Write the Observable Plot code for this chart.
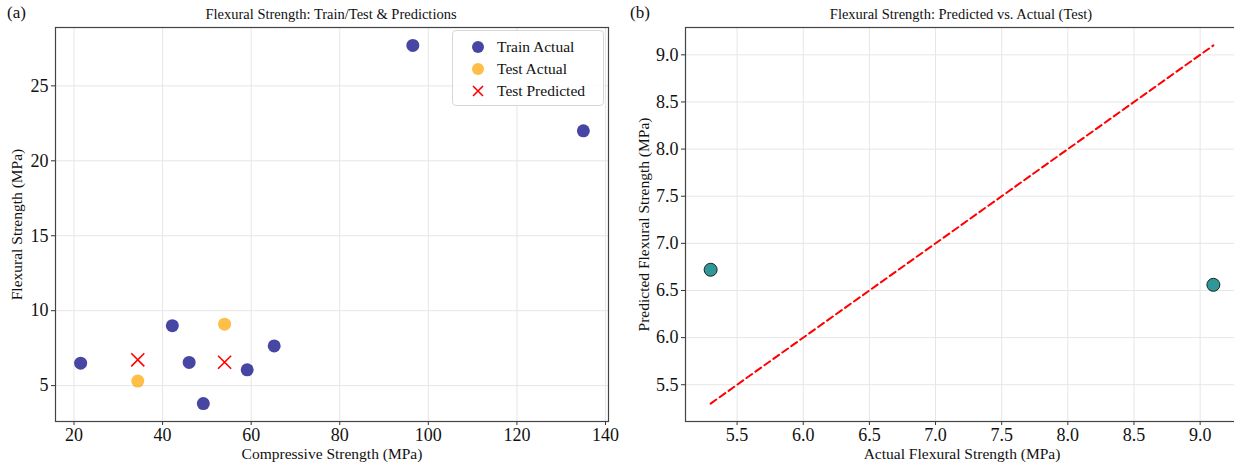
<!DOCTYPE html>
<html>
<head>
<meta charset="utf-8">
<script src="https://cdn.jsdelivr.net/npm/d3@7"></script>
<script src="https://cdn.jsdelivr.net/npm/@observablehq/plot@0.6"></script>
<style>
  html, body { margin: 0; padding: 0; background: #fff; overflow: hidden; }
  #wrap { position: relative; width: 1234px; height: 466px; overflow: hidden; font-family: "Liberation Serif", "DejaVu Serif", serif; color: #111; }
  .panel { position: absolute; top: 0; }
  .title { position: absolute; font-size: 14.5px; white-space: nowrap; transform: translateX(-50%); }
  .tag { position: absolute; font-size: 17px; }
  .legend { position: absolute; border: 1px solid #d6d6d6; border-radius: 4px; background: rgba(255,255,255,0.85); font-size: 15.5px; padding: 5px 0 3px 0; }
  .legend .row { display: flex; align-items: center; height: 22px; }
  .legend svg { margin-left: 18px; margin-right: 12px; }
</style>
</head>
<body>
<div id="wrap"></div>
<script>
// ---- data ----
const trainCompressive = [21.5, 42.2, 46.0, 49.2, 59.1, 65.2, 96.5, 135.0];
const trainFlexural    = [6.5, 9.0, 6.55, 3.8, 6.05, 7.65, 27.7, 22.0];
const testCompressive  = [34.4, 54.0];
const testFlexural     = [5.3, 9.1];
const testPredicted    = [6.72, 6.56];
const seriesNames = ["Train Actual", "Test Actual", "Test Predicted"];
const xTicksA = [20, 40, 60, 80, 100, 120, 140];
const yTicksA = [5, 10, 15, 20, 25];
const ticksB  = [5.5, 6.0, 6.5, 7.0, 7.5, 8.0, 8.5, 9.0];

const train = trainCompressive.map((x, i) => ({x, y: trainFlexural[i]}));
const testA = testCompressive.map((x, i) => ({x, y: testFlexural[i]}));
const testP = testCompressive.map((x, i) => ({x, y: testPredicted[i]}));
const pvA = testFlexural.map((a, i) => ({a, p: testPredicted[i]}));
const idLine = [d3.min(testFlexural), d3.max(testFlexural)].map(v => ({a: v, p: v}));

function padded(vals) {
  const [lo, hi] = d3.extent(vals);
  const m = (hi - lo) * 0.05;
  return [lo - m, hi + m];
}

const font = "font-family: 'Liberation Serif', 'DejaVu Serif', serif; font-size: 18px; color: #111; background: transparent; overflow: visible;";
const gridColor = "#e6e6e6";
const frameColor = "#444";
const axisOpts = {tickSize: 4, tickPadding: 3, fontSize: 18, stroke: "#333", labelAnchor: "center", labelArrow: "none"};

const wrap = document.getElementById("wrap");

function styleTexts(svg) {
  svg.querySelectorAll("text").forEach(t => {
    t.style.setProperty("font-family", "'Liberation Serif', 'DejaVu Serif', serif", "important");
    t.style.setProperty("font-size", "18px", "important");
    t.style.setProperty("font-variant", "normal", "important");
    t.style.setProperty("fill", "#111");
  });
  svg.querySelectorAll('g[aria-label$="axis label"] text').forEach(t => {
    t.style.setProperty("font-size", "15.5px", "important");
  });
}

// ---- panel (a) ----
const xDomA = padded([...trainCompressive, ...testCompressive]);
const yDomA = padded([...trainFlexural, ...testFlexural, ...testPredicted]);
const plotA = Plot.plot({
  width: 617, height: 466,
  marginLeft: 55, marginRight: 9, marginTop: 27, marginBottom: 45,
  style: font,
  x: {domain: xDomA},
  y: {domain: yDomA},
  marks: [
    Plot.gridX(xTicksA, {stroke: gridColor, strokeOpacity: 1}),
    Plot.gridY(yTicksA, {stroke: gridColor, strokeOpacity: 1}),
    Plot.axisX(xTicksA, {...axisOpts, label: "Compressive Strength (MPa)", labelOffset: 37}),
    Plot.axisY(yTicksA, {...axisOpts, label: "Flexural Strength (MPa)", labelOffset: 45}),
    Plot.dot(train, {x: "x", y: "y", r: 6.5, fill: "navy", fillOpacity: 0.72, stroke: "none"}),
    Plot.dot(testA, {x: "x", y: "y", r: 6.5, fill: "orange", fillOpacity: 0.72, stroke: "none"}),
    Plot.dot(testP, {x: "x", y: "y", r: 6, symbol: "times", stroke: "red", strokeWidth: 1.6}),
    Plot.frame({stroke: frameColor, strokeWidth: 1.2})
  ]
});
plotA.classList.add("panel");
plotA.style.left = "0px";
styleTexts(plotA);
wrap.appendChild(plotA);

// ---- panel (b) ----
const domB = padded([...testFlexural, ...testPredicted]);
const plotB = Plot.plot({
  width: 621, height: 466,
  marginLeft: 68, marginRight: 0, marginTop: 27, marginBottom: 45,
  style: font,
  x: {domain: domB},
  y: {domain: domB},
  marks: [
    Plot.gridX(ticksB, {stroke: gridColor, strokeOpacity: 1}),
    Plot.gridY(ticksB, {stroke: gridColor, strokeOpacity: 1}),
    Plot.axisX(ticksB, {...axisOpts, tickFormat: ".1f", label: "Actual Flexural Strength (MPa)", labelOffset: 37}),
    Plot.axisY(ticksB, {...axisOpts, tickFormat: ".1f", label: "Predicted Flexural Strength (MPa)", labelOffset: 48}),
    Plot.line(idLine, {x: "a", y: "p", stroke: "red", strokeWidth: 2, strokeDasharray: "7,4"}),
    Plot.dot(pvA, {x: "a", y: "p", r: 6.5, fill: "teal", fillOpacity: 0.82, stroke: "#222", strokeWidth: 1}),
    Plot.frame({stroke: frameColor, strokeWidth: 1.2})
  ]
});
plotB.classList.add("panel");
plotB.style.left = "617px";
styleTexts(plotB);
wrap.appendChild(plotB);

// ---- titles ----
function addDiv(cls, text, left, top) {
  const d = document.createElement("div");
  d.className = cls; d.textContent = text;
  d.style.left = left + "px"; d.style.top = top + "px";
  wrap.appendChild(d);
  return d;
}
addDiv("tag", "(a)", 7, 3);
addDiv("tag", "(b)", 630, 3);
addDiv("title", "Flexural Strength: Train/Test & Predictions", 331, 6);
addDiv("title", "Flexural Strength: Predicted vs. Actual (Test)", 961, 6);

// ---- legend ----
const lg = document.createElement("div");
lg.className = "legend";
lg.style.left = "452px"; lg.style.top = "30px"; lg.style.width = "150px";
const markers = [
  '<svg width="14" height="14"><circle cx="7" cy="7" r="6" fill="navy" fill-opacity="0.72"/></svg>',
  '<svg width="14" height="14"><circle cx="7" cy="7" r="6" fill="orange" fill-opacity="0.72"/></svg>',
  '<svg width="14" height="14"><path d="M2,2L12,12M12,2L2,12" stroke="red" stroke-width="1.6"/></svg>'
];
seriesNames.forEach((name, i) => {
  const row = document.createElement("div");
  row.className = "row";
  row.innerHTML = markers[i];
  const s = document.createElement("span");
  s.textContent = name;
  row.appendChild(s);
  lg.appendChild(row);
});
wrap.appendChild(lg);
</script>
</body>
</html>
